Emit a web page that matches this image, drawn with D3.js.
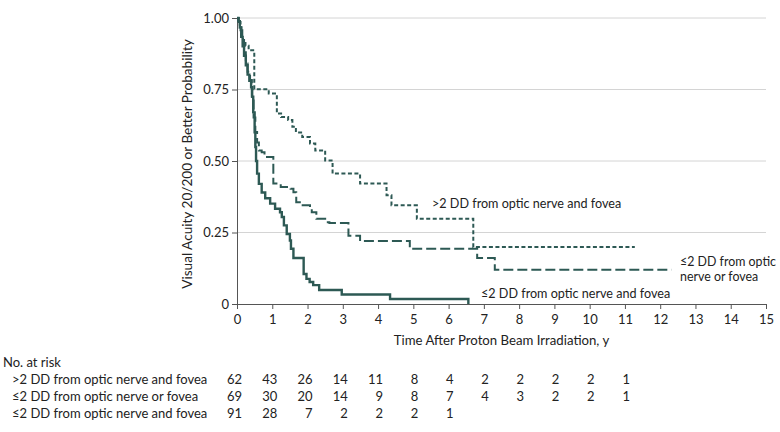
<!DOCTYPE html>
<html>
<head>
<meta charset="utf-8">
<script src="https://cdn.jsdelivr.net/npm/d3@7"></script>
<style>
  html, body { margin: 0; padding: 0; background: #fff; }
  svg { display: block; }
  text { font-family: Lato, "Open Sans", sans-serif; fill: #222; }
</style>
</head>
<body>
<svg id="chart" width="780" height="432"></svg>
<script>
// ---------- data ----------
const categories = [
  ">2 DD from optic nerve and fovea",
  "≤2 DD from optic nerve or fovea",
  "≤2 DD from optic nerve and fovea"
];

// >2 DD from optic nerve and fovea (dotted)
const farTimes = [0, 0.04, 0.08, 0.12, 0.17, 0.24, 0.33, 0.49, 0.90, 1.13, 1.25, 1.45, 1.57, 1.67, 1.85, 2.07, 2.22, 2.50, 2.71, 3.49, 4.24, 4.38, 5.10, 6.70, 11.28];
const farSurv  = [1.0, 0.984, 0.968, 0.935, 0.919, 0.903, 0.887, 0.751, 0.736, 0.666, 0.654, 0.643, 0.620, 0.600, 0.584, 0.561, 0.537, 0.502, 0.456, 0.421, 0.380, 0.345, 0.298, 0.199, 0.199];

// ≤2 DD from optic nerve or fovea (long dash)
const orTimes = [0, 0.05, 0.10, 0.15, 0.20, 0.25, 0.30, 0.37, 0.42, 0.47, 0.52, 0.57, 0.62, 0.70, 0.78, 1.03, 1.24, 1.52, 1.60, 1.68, 1.83, 2.07, 2.12, 2.25, 2.50, 2.62, 3.16, 3.49, 4.90, 6.81, 7.31, 12.32];
const orSurv  = [1.0, 0.986, 0.957, 0.928, 0.884, 0.841, 0.812, 0.783, 0.725, 0.652, 0.601, 0.565, 0.537, 0.531, 0.514, 0.421, 0.409, 0.403, 0.391, 0.356, 0.345, 0.333, 0.321, 0.298, 0.286, 0.283, 0.239, 0.220, 0.193, 0.161, 0.120, 0.120];

// ≤2 DD from optic nerve and fovea (solid)
const andTimes = [0, 0.04, 0.08, 0.12, 0.16, 0.20, 0.25, 0.30, 0.35, 0.40, 0.43, 0.46, 0.50, 0.52, 0.54, 0.57, 0.62, 0.70, 0.80, 0.94, 1.08, 1.22, 1.27, 1.33, 1.41, 1.50, 1.53, 1.60, 1.89, 1.97, 2.06, 2.16, 2.33, 2.97, 4.34, 6.56];
const andSurv  = [1.0, 0.989, 0.967, 0.934, 0.901, 0.868, 0.835, 0.802, 0.780, 0.758, 0.725, 0.670, 0.600, 0.549, 0.500, 0.456, 0.420, 0.390, 0.370, 0.351, 0.333, 0.321, 0.304, 0.275, 0.245, 0.222, 0.193, 0.161, 0.105, 0.088, 0.077, 0.066, 0.049, 0.033, 0.0175, 0.0];

// ticks
const xTicks = [0,1,2,3,4,5,6,7,8,9,10,11,12,13,14,15];
const yTicks = [0, 0.25, 0.5, 0.75, 1.0];
const yTickLabels = ["0", "0.25", "0.50", "0.75", "1.00"];

// number at risk
const riskTimes = [0,1,2,3,4,5,6,7,8,9,10,11];
const farRisk = [62,43,26,14,11,8,4,2,2,2,2,1];
const orRisk  = [69,30,20,14,9,8,7,4,3,2,2,1];
const andRisk = [91,28,7,2,2,2,1];

// ---------- drawing ----------
const color = "#2d5954";
const svg = d3.select("#chart");
const x = d3.scaleLinear().domain([0, 15]).range([237, 766]);
const y = d3.scaleLinear().domain([0, 1]).range([304, 18]);

// gridlines
svg.append("g").selectAll("line").data(yTicks.filter(d => d > 0)).join("line")
  .attr("x1", x(0)).attr("x2", x(15))
  .attr("y1", d => y(d)).attr("y2", d => y(d))
  .attr("stroke", "#d4d4d4").attr("stroke-width", 1);

// axes
const xAxis = d3.axisBottom(x).tickValues(xTicks).tickSize(5).tickSizeOuter(0).tickFormat(d3.format("d"));
const gx = svg.append("g").attr("transform", `translate(0,${y(0)})`).call(xAxis);
gx.select(".domain").attr("stroke", "#555");
gx.selectAll(".tick line").attr("stroke", "#555");
gx.selectAll(".tick text").attr("font-size", 13).attr("dy", "0.9em").style("font-family", "Lato").attr("fill", "#222");

const yAxis = d3.axisLeft(y).tickValues(yTicks).tickSize(5).tickSizeOuter(0)
  .tickFormat((d, i) => yTickLabels[i]);
const gy = svg.append("g").attr("transform", `translate(${x(0)},0)`).call(yAxis);
gy.select(".domain").attr("stroke", "#555");
gy.selectAll(".tick line").attr("stroke", "#555");
gy.selectAll(".tick text").attr("font-size", 13).style("font-family", "Lato").attr("fill", "#222");

// axis titles
svg.append("text").attr("x", (x(0) + x(15)) / 2).attr("y", 345)
  .attr("text-anchor", "middle").attr("font-size", 13.2)
  .text("Time After Proton Beam Irradiation, y");
svg.append("text").attr("transform", `translate(192,${(y(0) + y(1)) / 2 + 3}) rotate(-90)`)
  .attr("text-anchor", "middle").attr("font-size", 13.6)
  .text("Visual Acuity 20/200 or Better Probability");

// curves
const line = d3.line().x(d => x(d[0])).y(d => y(d[1])).curve(d3.curveStepAfter);
const series = [
  { t: farTimes, s: farSurv, dash: "4,2.5", w: 2 },
  { t: orTimes, s: orSurv, dash: "10,4", w: 2 },
  { t: andTimes, s: andSurv, dash: null, w: 2.4 }
];
series.forEach(sr => {
  svg.append("path")
    .datum(sr.t.map((t, i) => [t, sr.s[i]]))
    .attr("d", line)
    .attr("fill", "none")
    .attr("stroke", color)
    .attr("stroke-width", sr.w)
    .attr("stroke-dasharray", sr.dash);
});

// curve labels
svg.append("text").attr("x", 432).attr("y", 208).attr("font-size", 12.6).text(categories[0]);
const t2 = svg.append("text").attr("x", 680).attr("y", 266).attr("font-size", 12.4);
t2.append("tspan").attr("x", 680).text("≤2 DD from optic");
t2.append("tspan").attr("x", 680).attr("dy", 14.5).text("nerve or fovea");
svg.append("text").attr("x", 481).attr("y", 298).attr("font-size", 12.6).text(categories[2]);

// number at risk table
svg.append("text").attr("x", 3).attr("y", 367).attr("font-size", 13).text("No. at risk");
const rows = [farRisk, orRisk, andRisk];
const rowY = [384, 401, 418];
rows.forEach((r, i) => {
  svg.append("text").attr("x", 12).attr("y", rowY[i]).attr("font-size", 13).text(categories[i]);
  svg.append("g").selectAll("text").data(r).join("text")
    .attr("x", (d, j) => x(riskTimes[j]) + 5)
    .attr("y", rowY[i])
    .attr("text-anchor", "end")
    .attr("font-size", 13)
    .text(d => d);
});
</script>
</body>
</html>
